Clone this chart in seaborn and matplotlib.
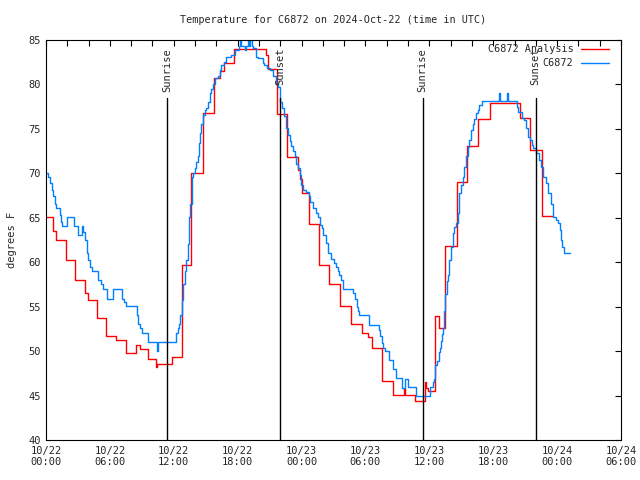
import pandas as pd
import seaborn as sns
import matplotlib.pyplot as plt
import matplotlib.dates as mdates

# hours after 2024-10-22 00:00 UTC, step values
analysis_hours = [0.0, 0.65, 0.95, 1.85, 2.7, 3.7, 3.9, 4.75, 5.65, 6.6, 7.55, 8.45, 8.85, 9.55,
                  10.3, 10.45, 11.8, 12.8, 13.65, 14.75, 15.75, 16.3, 16.75, 17.7, 20.7, 20.85,
                  21.7, 22.6, 23.7, 23.85, 24.0, 24.7, 25.6, 26.6, 27.65, 28.6, 29.65, 30.2, 30.6,
                  31.55, 32.6, 33.6, 33.7, 34.65, 35.6, 35.7, 35.85, 36.55, 36.87, 37.47, 38.56,
                  39.5, 40.6, 41.7, 44.5, 45.5, 46.6, 47.6]
analysis_temps = [65.1, 63.5, 62.5, 60.2, 58.0, 56.5, 55.75, 53.7, 51.7, 51.2, 49.75, 50.65, 50.2, 49.1,
                  48.25, 48.5, 49.3, 59.7, 70.0, 76.75, 80.75, 81.5, 82.4, 84.0, 83.3, 81.7,
                  76.7, 71.8, 70.4, 69.4, 67.75, 64.25, 59.7, 57.6, 55.1, 53.1, 52.0, 51.6, 50.3,
                  46.6, 45.06, 45.7, 45.06, 44.4, 46.56, 45.9, 45.5, 54.0, 52.6, 61.8, 69.0,
                  73.1, 76.1, 77.95, 76.2, 72.6, 65.2, 65.2]

obs_hours = [0.0, 0.22, 0.375, 0.53, 0.69, 0.84, 0.94, 1.31, 1.45, 1.53, 1.94, 2.66, 3.03, 3.4,
             3.5, 3.66, 3.81, 3.97, 4.12, 4.28, 4.9, 5.16, 5.31, 5.69, 6.31, 7.16, 7.31, 7.5,
             8.5, 8.66, 8.81, 9.06, 9.59, 10.43, 10.5, 12.19, 12.35, 12.5, 12.63, 12.78, 12.87,
             13.03, 13.19, 13.34, 13.44, 13.56, 13.72, 13.81, 13.97, 14.12, 14.28, 14.37, 14.44,
             14.6, 14.75, 14.9, 15.06, 15.22, 15.37, 15.53, 15.69, 15.84, 16.16, 16.31, 16.47,
             16.69, 16.87, 17.41, 17.72, 18.12, 18.25, 18.35, 18.66, 18.81, 19.0, 19.1, 19.2,
             19.3, 19.44, 19.75, 19.9, 20.37, 20.5, 20.75, 21.0, 21.31, 21.62, 21.78, 22.0,
             22.19, 22.31, 22.5, 22.72, 22.87, 23.03, 23.19, 23.34, 23.5, 23.66, 23.81, 23.97,
             24.12, 24.44, 24.66, 24.81, 25.06, 25.37, 25.53, 25.69, 25.9, 26.06, 26.25, 26.47,
             26.78, 27.0, 27.25, 27.44, 27.56, 27.72, 27.87, 28.87, 29.06, 29.19, 29.31, 29.37,
             30.31, 30.37, 31.25, 31.37, 31.56, 31.69, 31.87, 32.19, 32.56, 32.87, 33.44, 33.75,
             34.0, 34.75, 36.06, 36.31, 36.47, 36.56, 36.69, 36.87, 37.0, 37.1, 37.19, 37.31,
             37.4, 37.5, 37.62, 37.72, 37.87, 38.03, 38.19, 38.34, 38.5, 38.66, 38.75, 38.81,
             38.97, 39.12, 39.28, 39.44, 39.6, 39.75, 39.9, 40.06, 40.22, 40.37, 40.53, 40.69,
             40.94, 42.5, 42.6, 43.3, 43.4, 44.19, 44.37, 44.69, 44.9, 45.06, 45.28, 45.47,
             45.6, 45.78, 46.0, 46.31, 46.47, 46.69, 46.94, 47.19, 47.4, 47.6, 47.87, 48.12,
             48.25, 48.37, 48.5, 48.66, 49.19]
obs_temps = [70.0, 69.6, 68.9, 68.1, 67.4, 66.6, 66.1, 65.3, 64.5, 64.1, 65.05, 64.1, 63.1, 64.1,
             63.4, 62.5, 61.0, 60.3, 59.5, 59.0, 58.0, 57.5, 56.95, 55.9, 56.95, 55.9, 55.5, 55.07,
             54.06, 53.05, 52.6, 52.0, 51.0, 50.0, 51.0, 52.0, 52.6, 53.05, 54.06, 55.75, 57.6,
             59.0, 60.25, 62.1, 65.1, 66.6, 69.6, 70.0, 70.6, 71.3, 71.9, 73.4, 74.5,
             75.6, 76.6, 77.1, 77.4, 78.06, 79.0, 79.5, 80.1, 80.7, 80.9, 81.6, 82.2,
             82.5, 83.05, 83.3, 83.9, 84.3, 85.5, 84.3, 83.9, 84.3, 85.5, 84.3, 85.5,
             84.3, 84.06, 83.1, 83.0, 82.4, 82.2, 81.8, 81.6, 80.9, 80.1, 79.7, 78.06,
             77.4, 76.4, 75.1, 74.3, 73.6, 73.1, 72.5, 71.9, 71.1, 70.6, 69.8, 68.7,
             68.1, 67.9, 67.4, 66.8, 66.06, 65.5, 65.1, 64.2, 63.8, 63.06, 62.2, 61.0,
             60.4, 59.95, 59.5, 59.05, 58.6, 58.0, 56.95, 56.5, 55.9, 55.0, 54.5, 54.03,
             53.5, 52.97, 52.4, 51.7, 50.95, 50.4, 50.05, 49.0, 47.95, 46.97, 45.9, 46.9,
             45.97, 44.96, 45.97, 46.5, 46.9, 48.4, 48.9, 49.9, 50.4, 51.1, 51.9, 52.6,
             54.5, 56.4, 57.9, 58.6, 60.25, 61.75, 63.25, 64.0, 64.4, 65.5, 66.6, 67.75,
             68.7, 69.6, 70.75, 71.9, 73.0, 73.75, 74.9, 75.6, 76.1, 76.75, 77.1, 77.7,
             78.1, 79.0, 78.1, 79.0, 78.1, 77.5, 76.9, 76.2, 76.0, 75.06, 74.1, 73.75,
             73.2, 72.8, 72.25, 71.5, 70.75, 69.6, 68.9, 67.75, 66.6, 65.1, 64.75, 64.4,
             63.6, 62.5, 61.75, 61.07, 61.07]

sun_events = ["Sunrise", "Sunset", "Sunrise", "Sunset"]
sun_hours = [11.37, 22.02, 35.37, 45.98]

start = pd.Timestamp("2024-10-22 00:00")
analysis = pd.DataFrame({"time": start + pd.to_timedelta(analysis_hours, unit="h"),
                         "temp": analysis_temps})
obs = pd.DataFrame({"time": start + pd.to_timedelta(obs_hours, unit="h"), "temp": obs_temps})

sns.set_theme(style="white")
plt.rcParams['font.family'] = ['DejaVu Sans Mono', 'DejaVu Sans']
plt.rcParams['font.size'] = 7.3

fig = plt.figure(figsize=(6.4, 4.8), dpi=100)
ax = fig.add_axes([46 / 640, 40 / 480, 575 / 640, 400 / 480])

sns.lineplot(data=analysis, x="time", y="temp", color="#ff0000", lw=1.0,
             drawstyle="steps-post", label="C6872 Analysis", ax=ax)
sns.lineplot(data=obs, x="time", y="temp", color="#0080ff", lw=1.0,
             drawstyle="steps-post", label="C6872", ax=ax)

for name, h in zip(sun_events, sun_hours):
    t = start + pd.Timedelta(hours=h)
    ax.axvline(t, ymin=0, ymax=0.855, color="black", lw=1.0)
    ax.text(t, 0.98, name, transform=ax.get_xaxis_transform(), rotation=90,
            ha="center", va="top", fontsize=7.5)

ax.set_xlim(start, start + pd.Timedelta(hours=54))
ax.set_ylim(40, 85)
ax.set_yticks(range(40, 86, 5))
ax.xaxis.set_major_locator(mdates.HourLocator(byhour=range(0, 24, 6)))
ax.xaxis.set_major_formatter(mdates.DateFormatter("%m/%d\n%H:%M"))
ax.xaxis.set_minor_locator(mdates.HourLocator(byhour=range(0, 24, 2)))
ax.tick_params(which="both", direction="in", top=True, right=True, length=4,
               width=0.8, color="black", labelsize=7.5, pad=4)
for s in ax.spines.values():
    s.set_color("black")
    s.set_linewidth(0.8)

ax.set_xlabel("")
ax.set_ylabel("degrees F", fontsize=7.5, labelpad=8)
ax.set_title("Temperature for C6872 on 2024-Oct-22 (time in UTC)", fontsize=7.3, pad=12)

ax.legend(loc="upper right", bbox_to_anchor=(0.986, 1.0), frameon=False, markerfirst=False,
          fontsize=7.3, handlelength=2.8, borderaxespad=0.0, labelspacing=0.4,
          handletextpad=0.7)

fig.savefig("out.png", dpi=100)
